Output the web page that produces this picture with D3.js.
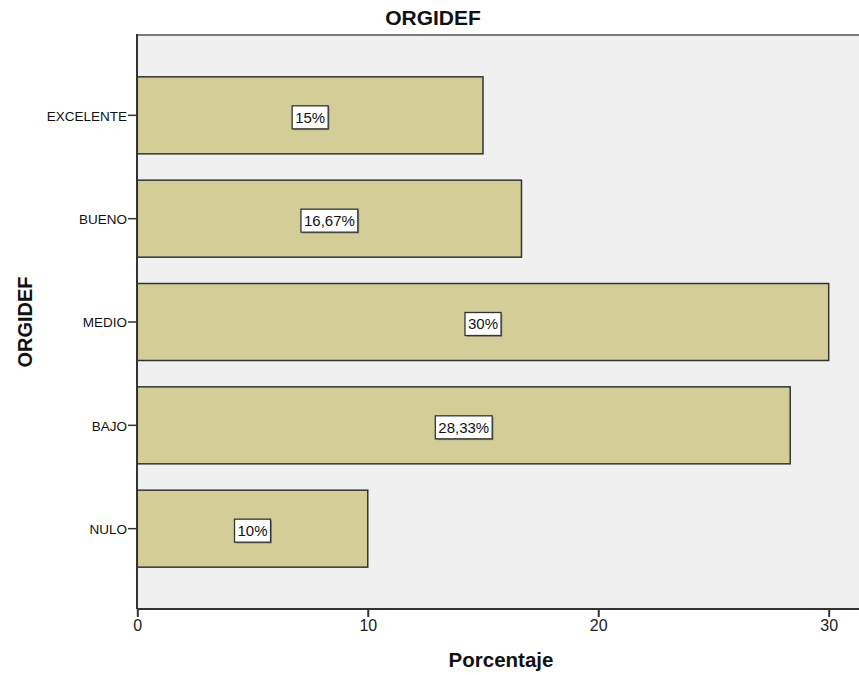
<!DOCTYPE html>
<html>
<head>
<meta charset="utf-8">
<script src="https://cdn.jsdelivr.net/npm/d3@7/dist/d3.min.js"></script>
<style>
  html, body { margin: 0; padding: 0; background: #ffffff; }
  svg { display: block; }
  text { font-family: "Liberation Sans", Arial, sans-serif; }
</style>
</head>
<body>
<svg id="chart" width="859" height="675"></svg>
<script>
// Category order top to bottom and their percentages
const categories = ["EXCELENTE", "BUENO", "MEDIO", "BAJO", "NULO"];
const percentages = [15, 16.67, 30, 28.33, 10];
const xTicks = [0, 10, 20, 30];

const chartTitle = "ORGIDEF";
const xTitle = "Porcentaje";
const yTitle = "ORGIDEF";

const svg = d3.select("#chart");
const W = 859, H = 675;

const plot = { left: 137, top: 35, bottom: 609, right: 880 };

const x = d3.scaleLinear().domain([0, 30]).range([137.3, 828.7]);
const y = d3.scaleBand()
  .domain(categories)
  .range([plot.top, plot.bottom])
  .paddingInner(0.255)
  .paddingOuter(0.405);

const esLocale = d3.formatLocale({ decimal: ",", thousands: ".", grouping: [3], currency: ["", "€"] });
const fmt = v => esLocale.format(",.2~f")(v) + "%";

// plot background
svg.append("rect")
  .attr("x", plot.left).attr("y", plot.top)
  .attr("width", plot.right - plot.left).attr("height", plot.bottom - plot.top)
  .attr("fill", "#f0f0f0");

// top frame line
svg.append("line")
  .attr("x1", plot.left).attr("x2", W + 5)
  .attr("y1", plot.top).attr("y2", plot.top)
  .attr("stroke", "#7a7a7a").attr("stroke-width", 2);

const data = categories.map((c, i) => ({ cat: c, value: percentages[i] }));

// bars
svg.append("g").selectAll("rect")
  .data(data).join("rect")
  .attr("x", x(0))
  .attr("y", d => y(d.cat))
  .attr("width", d => x(d.value) - x(0))
  .attr("height", y.bandwidth())
  .attr("fill", "#d3ce97")
  .attr("stroke", "#333333")
  .attr("stroke-width", 1.5);

// value labels in boxes
const lab = svg.append("g").selectAll("g")
  .data(data).join("g")
  .attr("transform", d => `translate(${(x(0) + x(d.value)) / 2},${y(d.cat) + y.bandwidth() / 2 + 2})`);

lab.each(function(d) {
  const g = d3.select(this);
  const t = g.append("text")
    .attr("text-anchor", "middle")
    .attr("dy", "0.36em")
    .attr("font-size", 15)
    .attr("fill", "#111")
    .text(fmt(d.value));
  const bb = t.node().getBBox();
  const bw = bb.width + 6, bh = 23;
  g.insert("rect", "text")
    .attr("x", -bw / 2 + 1.3).attr("y", -bh / 2 + 1.3)
    .attr("width", bw).attr("height", bh)
    .attr("fill", "#8a8a70");
  g.insert("rect", "text")
    .attr("x", -bw / 2).attr("y", -bh / 2)
    .attr("width", bw).attr("height", bh)
    .attr("fill", "#ffffff")
    .attr("stroke", "#333333").attr("stroke-width", 1.3);
});

// x axis
const xAxis = svg.append("g")
  .attr("transform", `translate(0,${plot.bottom})`)
  .call(d3.axisBottom(x).tickValues(xTicks).tickSize(8).tickPadding(3).tickSizeOuter(0));
xAxis.select(".domain").remove();
xAxis.append("line")
  .attr("x1", plot.left).attr("x2", W + 5)
  .attr("stroke", "#333333").attr("stroke-width", 2);
xAxis.selectAll(".tick line").attr("stroke", "#333333").attr("stroke-width", 2);
xAxis.selectAll(".tick text")
  .attr("font-size", 16).attr("fill", "#222")
  .attr("font-family", "Liberation Sans, Arial, sans-serif");

// y axis
const yAxis = svg.append("g")
  .attr("transform", `translate(${plot.left},0)`)
  .call(d3.axisLeft(y).tickSize(9).tickPadding(1).tickSizeOuter(0));
yAxis.select(".domain").remove();
yAxis.append("line")
  .attr("y1", plot.top - 1).attr("y2", plot.bottom)
  .attr("stroke", "#333333").attr("stroke-width", 2);
yAxis.selectAll(".tick line").attr("stroke", "#333333").attr("stroke-width", 1.5);
yAxis.selectAll(".tick text")
  .attr("font-size", 13.5).attr("fill", "#111")
  .attr("dy", "0.4em")
  .attr("font-family", "Liberation Sans, Arial, sans-serif");

// titles
svg.append("text")
  .attr("x", 433).attr("y", 25)
  .attr("text-anchor", "middle")
  .attr("font-size", 21).attr("font-weight", "bold")
  .attr("fill", "#111")
  .text(chartTitle);

svg.append("text")
  .attr("x", 501).attr("y", 667)
  .attr("text-anchor", "middle")
  .attr("font-size", 20.5).attr("font-weight", "bold")
  .attr("fill", "#111")
  .text(xTitle);

svg.append("text")
  .attr("transform", `translate(32,322) rotate(-90)`)
  .attr("text-anchor", "middle")
  .attr("font-size", 20).attr("font-weight", "bold")
  .attr("fill", "#111")
  .text(yTitle);
</script>
</body>
</html>
